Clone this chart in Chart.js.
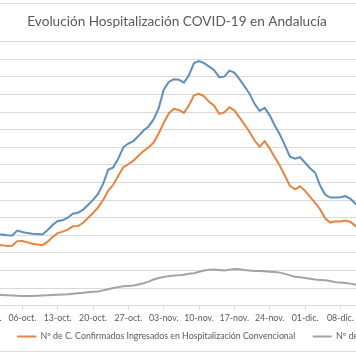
<!DOCTYPE html>
<html><head><meta charset="utf-8">
<script src="https://cdn.jsdelivr.net/npm/chart.js@4/dist/chart.umd.min.js"></script>
<style>
html,body{margin:0;padding:0;background:#fff;overflow:hidden;width:356px;height:359px;position:relative;}
#wrap{position:absolute;left:-203px;top:0;width:760px;height:359px;}
</style></head><body>
<div id="wrap"><canvas id="c" width="760" height="359"></canvas></div>
<script>
const titleText = 'Evolución Hospitalización COVID-19 en Andalucía';
const seriesNames = [
  'Nº Total Casos Hospitalizados',
  'Nº de C. Confirmados Ingresados en Hospitalización Convencional',
  'Nº de C. Confirmados Ingresados en UCI'
];
const dates = [
  '29-sep.','30-sep.',
  '01-oct.','02-oct.','03-oct.','04-oct.','05-oct.','06-oct.','07-oct.','08-oct.','09-oct.','10-oct.',
  '11-oct.','12-oct.','13-oct.','14-oct.','15-oct.','16-oct.','17-oct.','18-oct.','19-oct.','20-oct.',
  '21-oct.','22-oct.','23-oct.','24-oct.','25-oct.','26-oct.','27-oct.','28-oct.','29-oct.','30-oct.','31-oct.',
  '01-nov.','02-nov.','03-nov.','04-nov.','05-nov.','06-nov.','07-nov.','08-nov.','09-nov.','10-nov.',
  '11-nov.','12-nov.','13-nov.','14-nov.','15-nov.','16-nov.','17-nov.','18-nov.','19-nov.','20-nov.',
  '21-nov.','22-nov.','23-nov.','24-nov.','25-nov.','26-nov.','27-nov.','28-nov.','29-nov.','30-nov.',
  '01-dic.','02-dic.','03-dic.','04-dic.','05-dic.','06-dic.','07-dic.','08-dic.','09-dic.','10-dic.',
  '11-dic.','12-dic.','13-dic.','14-dic.','15-dic.','16-dic.','17-dic.','18-dic.','19-dic.','20-dic.'
];
// values from 01-oct. to 12-dic.
const firstDate = '01-oct.';
const hospTotal = [
  808, 808, 802, 799, 854,
  837, 825, 817, 814, 810,
  860, 917, 962, 970, 1000,
  1046, 1057, 1088, 1145, 1202,
  1271, 1385, 1545, 1572, 1671,
  1800, 1843, 1871, 1928, 1991,
  2037, 2117, 2243, 2454, 2543,
  2574, 2568, 2534, 2620, 2757,
  2780, 2757, 2717, 2677, 2597,
  2603, 2671, 2648, 2574, 2494,
  2408, 2294, 2214, 2248, 2163,
  2048, 1945, 1825, 1694, 1671,
  1688, 1625, 1563, 1511, 1362,
  1260, 1229, 1229, 1233, 1245,
  1214, 1157, 1111
];
const hospConv = [
  688, 686, 679, 682, 734,
  736, 720, 705, 696, 688,
  728, 780, 825, 842, 865,
  902, 905, 940, 997, 1054,
  1117, 1202, 1305, 1374, 1477,
  1574, 1608, 1648, 1705, 1757,
  1797, 1854, 1957, 2077, 2185,
  2237, 2225, 2191, 2277, 2391,
  2408, 2380, 2317, 2273, 2180,
  2197, 2254, 2220, 2140, 2060,
  1974, 1877, 1808, 1871, 1785,
  1688, 1591, 1477, 1362, 1322,
  1357, 1305, 1237, 1168, 1094,
  991, 945, 960, 957, 968,
  951, 905, 871
];
const uci = [
  126, 123, 120, 117, 113,
  111, 109, 110, 112, 115,
  118, 121, 125, 128, 131,
  137, 142, 146, 152, 158,
  162, 174, 187, 200, 211,
  222, 225, 229, 242, 256,
  274, 297, 314, 325, 336,
  343, 347, 353, 363, 370,
  385, 399, 409, 410, 405,
  400, 410, 416, 415, 406,
  400, 395, 393, 391, 387,
  384, 376, 362, 345, 329,
  322, 315, 307, 299, 293,
  288, 281, 267, 263, 258,
  251, 239, 231
];
const colors = ['#5b8fc0', '#e8843f', '#a3a3a3'];

const start = dates.indexOf(firstDate);
const align = (arr) => dates.map((_, i) => (i >= start && i - start < arr.length) ? arr[i - start] : null);

const borderPlugin = {
  id: 'outerBorder',
  beforeDraw(chart) {
    const c = chart.ctx;
    c.save();
    c.strokeStyle = '#d9d9d9';
    c.lineWidth = 1;
    c.strokeRect(0.5, 3.5, chart.width - 1, 348);
    c.restore();
  }
};
// legend sits a little closer to the axis labels than Chart.js's default stacking
const legendNudge = {
  id: 'legendNudge',
  afterLayout(chart) {
    const l = chart.legend;
    if (l) { l.top -= 8; l.bottom -= 8; }
  }
};

const font9 = {family: 'Lato', size: 8.8};
new Chart(document.getElementById('c'), {
  type: 'line',
  data: {
    labels: dates,
    datasets: [hospTotal, hospConv, uci].map((arr, k) => ({
      label: seriesNames[k],
      data: align(arr),
      borderColor: colors[k],
      backgroundColor: colors[k],
      borderWidth: 2,
      pointRadius: 0,
      tension: 0
    }))
  },
  options: {
    responsive: false,
    animation: false,
    layout: {padding: {left: 10, right: 10, top: 0, bottom: 0}},
    plugins: {
      title: {display: true, text: titleText, color: '#595959',
        font: {family: 'Lato', size: 13.6, weight: 'normal'}, padding: {top: 13.9, bottom: 11.5}},
      legend: {position: 'bottom', labels: {boxWidth: 19, boxHeight: 0, padding: 17.5, color: '#595959', font: font9}},
      tooltip: {enabled: false}
    },
    scales: {
      x: {
        type: 'category', offset: false,
        grid: {drawOnChartArea: false, drawTicks: true, tickLength: 4, color: '#d9d9d9'},
        border: {display: true, color: '#d9d9d9'},
        ticks: {autoSkip: false, maxRotation: 0, minRotation: 0, padding: 3, color: '#595959', font: font9},
        afterBuildTicks: (s) => { s.ticks = s.ticks.filter(t => t.value % 7 === 0); },
        afterFit: (s) => { s.height = 17; }
      },
      y: {
        min: 0, max: 3000,
        ticks: {stepSize: 200, color: '#595959', font: font9},
        grid: {color: '#d9d9d9', drawTicks: false},
        border: {display: false},
        afterFit: (s) => { s.width = 180; }
      },
      yRight: {
        position: 'right', display: true,
        ticks: {display: false}, grid: {display: false}, border: {display: false},
        afterFit: (s) => { s.width = 146; }
      }
    }
  },
  plugins: [borderPlugin, legendNudge]
});
</script>
</body></html>
